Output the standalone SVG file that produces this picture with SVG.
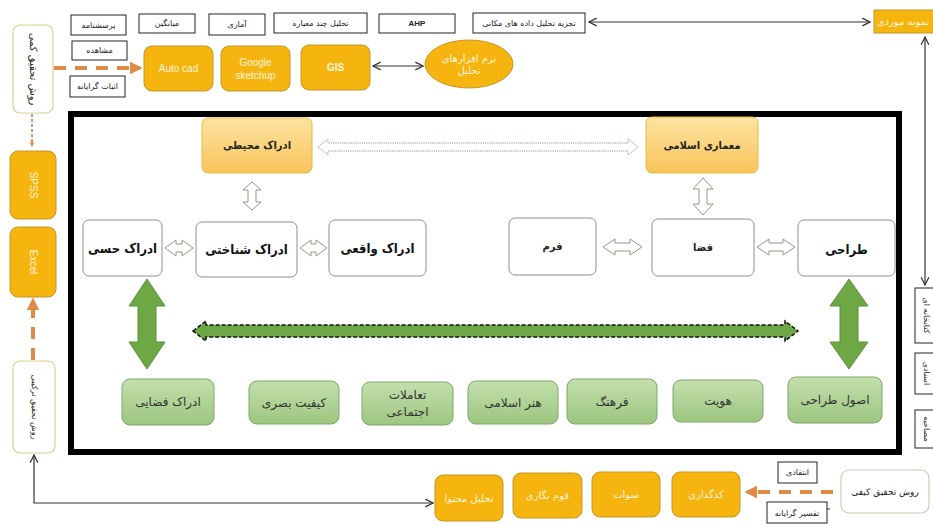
<svg xmlns="http://www.w3.org/2000/svg" width="933" height="525" viewBox="0 0 933 525">
<defs>
<linearGradient id="gOr" x1="0" y1="0" x2="0" y2="1"><stop offset="0" stop-color="#fde3a2"/><stop offset="1" stop-color="#f8c45a"/></linearGradient>
<linearGradient id="gGr" x1="0" y1="0" x2="0" y2="1"><stop offset="0" stop-color="#c3dfad"/><stop offset="1" stop-color="#9cc67f"/></linearGradient>
<marker id="ah" viewBox="0 0 10 10" refX="9" refY="5" markerWidth="8" markerHeight="8" orient="auto-start-reverse"><path d="M1,1 L9,5 L1,9" fill="none" stroke="#333" stroke-width="1.3"/></marker>
<marker id="ahO" viewBox="0 0 10 10" refX="8" refY="5" markerWidth="3.2" markerHeight="3.2" orient="auto-start-reverse"><path d="M0,0 L10,5 L0,10 Z" fill="#df8a45"/></marker>
</defs>
<style>
text{font-family:"DejaVu Sans","Noto Sans",sans-serif;text-anchor:middle;dominant-baseline:central}
.lat{font-family:"Liberation Sans",Arial,sans-serif}
.sb{fill:#fff;stroke:#222;stroke-width:1}
.st{font-size:8px;fill:#222}
.ob{fill:#f6b40f;stroke:#c4962a;stroke-width:1}
.ot{font-size:10px;fill:#fff6dc}
.wb{fill:#fff;stroke:#8e8e8e;stroke-width:1}
.wt{font-family:"DejaVu Sans Condensed","DejaVu Sans",sans-serif;font-size:13px;font-weight:bold;fill:#111}
.pb{fill:url(#gOr);stroke:#e6b84a;stroke-width:1}
.pt{font-family:"DejaVu Sans Condensed","DejaVu Sans",sans-serif;font-size:11px;font-weight:bold;fill:#222}
.gb{fill:url(#gGr);stroke:#7da868;stroke-width:1}
.gt{font-size:12px;fill:#333}
.yb{fill:#fff;stroke:#d8cf92;stroke-width:1.2}
.hol{fill:#fff;stroke:#8d9a80;stroke-width:1}
.ln{fill:none;stroke:#333;stroke-width:1.2}
.od{fill:none;stroke:#df8a45;stroke-width:4;stroke-dasharray:12 9}
</style>

<g id="main-frame"><rect x="71" y="114" width="828" height="338" fill="#fff" stroke="#000" stroke-width="6"/></g>

<g id="connectors">
<line class="ln" x1="589" y1="22" x2="870" y2="22" marker-start="url(#ah)" marker-end="url(#ah)"/>
<line class="ln" x1="925" y1="37" x2="925" y2="285" marker-start="url(#ah)" marker-end="url(#ah)"/>
<line class="ln" x1="373" y1="66" x2="423" y2="66" marker-start="url(#ah)" marker-end="url(#ah)"/>
<line class="od" x1="54" y1="68" x2="140" y2="68" marker-end="url(#ahO)"/>
<line x1="32" y1="114" x2="32" y2="146" stroke="#b87a4a" stroke-width="1.5" stroke-dasharray="3 2" marker-end="url(#ahO)"/>
<line class="od" x1="33" y1="360" x2="33" y2="300" stroke-dasharray="9 7" marker-end="url(#ahO)"/>
<polyline class="ln" points="34,455 34,503 433,503" marker-start="url(#ah)" marker-end="url(#ah)"/>
<line class="od" x1="833" y1="492" x2="747" y2="492" marker-end="url(#ahO)"/>
<line x1="768" y1="509" x2="830" y2="509" stroke="#222" stroke-width="1"/>
<path class="hol" stroke="#777" stroke-dasharray="1.2 1" d="M318,147 L328,139 L328,143 L628,143 L628,139 L638,147 L628,155 L628,151 L328,151 L328,155 Z"/>
<path class="hol" d="M252,182 L261,190 L256,190 L256,202 L261,202 L252,210 L243,202 L248,202 L248,190 L243,190 Z"/>
<path class="hol" d="M703,178 L713,189 L707,189 L707,204 L713,204 L703,215 L693,204 L699,204 L699,189 L693,189 Z"/>
<path class="hol" d="M165,248 L176,240 L176,244 L182,244 L182,240 L193,248 L182,256 L182,252 L176,252 L176,256 Z"/>
<path class="hol" d="M300,248 L311,240 L311,244 L316,244 L316,240 L327,248 L316,256 L316,252 L311,252 L311,256 Z"/>
<path class="hol" d="M603,247 L615,239 L615,243 L630,243 L630,239 L642,247 L630,255 L630,251 L615,251 L615,255 Z"/>
<path class="hol" d="M757,247 L769,239 L769,243 L783,243 L783,239 L795,247 L783,255 L783,251 L769,251 L769,255 Z"/>
<path d="M147,279 L165,306 L156,306 L156,342 L165,342 L147,369 L129,342 L138,342 L138,306 L129,306 Z" fill="#6ea844" stroke="#5a8f38" stroke-width="1"/>
<path d="M849,279 L868,306 L858,306 L858,342 L868,342 L849,369 L830,342 L840,342 L840,306 L830,306 Z" fill="#6ea844" stroke="#5a8f38" stroke-width="1"/>
<path d="M193,331 L206,321 L206,325 L785,325 L785,321 L798,331 L785,341 L785,337 L206,337 L206,341 Z" fill="#6ea844" stroke="#111" stroke-width="1.5" stroke-dasharray="4 2"/>
</g>

<g id="n-porseshname"><rect class="sb" x="71" y="15" width="55" height="20"/><text class="st" x="98.5" y="25">پرسشنامه</text></g>
<g id="n-moshahede"><rect class="sb" x="72" y="41" width="55" height="19"/><text class="st" x="99.5" y="50.5">مشاهده</text></g>
<g id="n-esbat"><rect class="sb" x="70" y="76" width="55" height="21"/><text class="st" x="97.5" y="86.5">اثبات گرایانه</text></g>
<g id="n-miangin"><rect class="sb" x="139" y="14" width="56" height="19"/><text class="st" x="167" y="23.5">میانگین</text></g>
<g id="n-amari"><rect class="sb" x="209" y="14" width="56" height="21"/><text class="st" x="237" y="24.5">آماری</text></g>
<g id="n-chandmeyare"><rect class="sb" x="274" y="13" width="93" height="20"/><text class="st" x="320.5" y="23">تحلیل چند معیاره</text></g>
<g id="n-ahp"><rect class="sb" x="379" y="14" width="76" height="19"/><text class="st lat" x="417" y="23.5" font-weight="bold">AHP</text></g>
<g id="n-tajzie"><rect class="sb" x="473" y="13" width="112" height="20"/><text class="st" x="529" y="23">تجزیه تحلیل داده های مکانی</text></g>
<g id="n-nemoune"><rect class="ob" x="874" y="10" width="62" height="23"/><text class="ot" x="903" y="21.5" font-size="8px">نمونه موردی</text></g>

<g id="n-kami"><rect class="yb" x="13" y="25" width="40" height="88" rx="7"/><text x="33" y="69" font-size="10px" fill="#222" transform="rotate(90 33 69)">روش تحقیق کمی</text></g>
<g id="n-autocad"><rect class="ob" x="144" y="46" width="69" height="45" rx="8"/><text class="ot lat" x="178.5" y="68.5" font-size="12px">Auto cad</text></g>
<g id="n-sketchup"><rect class="ob" x="221" y="46" width="69" height="45" rx="8"/><text class="ot lat" x="255.5" y="62" font-size="11px">Google</text><text class="ot lat" x="255.5" y="75" font-size="11px">sketchup</text></g>
<g id="n-gis"><rect class="ob" x="301" y="45" width="69" height="45" rx="8"/><text class="ot lat" x="335.5" y="67.5" font-weight="bold">GIS</text></g>
<g id="n-narmafzar"><ellipse cx="469" cy="64" rx="44" ry="24" fill="#f6b40f" stroke="#c4962a" stroke-width="1"/><text class="ot" x="469" y="58" font-size="8px">نرم افزارهای</text><text class="ot" x="469" y="70" font-size="8px">تحلیل</text></g>

<g id="n-spss"><rect class="ob" x="10" y="151" width="46" height="68" rx="8"/><text class="ot lat" x="33" y="185" transform="rotate(90 33 185)">SPSS</text></g>
<g id="n-excel"><rect class="ob" x="10" y="227" width="46" height="70" rx="8"/><text class="ot lat" x="33" y="262" transform="rotate(90 33 262)">Excel</text></g>
<g id="n-tarkibi"><rect class="yb" x="13" y="361" width="42" height="92" rx="7"/><text x="34" y="407" font-size="8px" fill="#222" transform="rotate(90 34 407)">روش تحقیق ترکیبی</text></g>

<g id="n-ketabkhane"><rect class="sb" x="915" y="288" width="30" height="55"/><text class="st" x="926" y="315.5" transform="rotate(90 926 315.5)">کتابخانه ای</text></g>
<g id="n-asnadi"><rect class="sb" x="915" y="353" width="30" height="41"/><text class="st" x="926" y="373.5" transform="rotate(90 926 373.5)">اسنادی</text></g>
<g id="n-mosahebe"><rect class="sb" x="915" y="410" width="30" height="38"/><text class="st" x="926" y="429" transform="rotate(90 926 429)">مصاحبه</text></g>

<g id="n-mohiti"><rect class="pb" x="202" y="118" width="110" height="55" rx="6"/><text class="pt" x="257" y="145.5">ادراک محیطی</text></g>
<g id="n-memari"><rect class="pb" x="646" y="117" width="112" height="56" rx="6"/><text class="pt" x="702" y="145">معماری اسلامی</text></g>
<g id="n-hessi"><rect class="wb" x="83" y="220" width="79" height="56" rx="6"/><text class="wt" x="122.5" y="248">ادراک حسی</text></g>
<g id="n-shenakhti"><rect class="wb" x="196" y="222" width="101" height="55" rx="6"/><text class="wt" x="246.5" y="249.5">ادراک شناختی</text></g>
<g id="n-vaghei"><rect class="wb" x="329" y="220" width="97" height="56" rx="6"/><text class="wt" x="377.5" y="248">ادراک واقعی</text></g>
<g id="n-form"><rect class="wb" x="509" y="218" width="87" height="57" rx="6"/><text class="pt" x="552.5" y="246.5">فرم</text></g>
<g id="n-faza"><rect class="wb" x="652" y="219" width="102" height="57" rx="6"/><text class="pt" x="703" y="247.5" font-size="12px">فضا</text></g>
<g id="n-tarrahi"><rect class="wb" x="798" y="220" width="97" height="56" rx="6"/><text class="wt" x="846.5" y="249">طراحی</text></g>

<g id="n-fazai"><rect class="gb" x="122" y="379" width="92" height="46" rx="8"/><text class="gt" x="168" y="402">ادراک فضایی</text></g>
<g id="n-basari"><rect class="gb" x="249" y="381" width="90" height="43" rx="8"/><text class="gt" x="294" y="402.5">کیفیت بصری</text></g>
<g id="n-taamolat"><rect class="gb" x="362" y="382" width="91" height="43" rx="8"/><text class="gt" x="407.5" y="395">تعاملات</text><text class="gt" x="407.5" y="412">اجتماعی</text></g>
<g id="n-honar"><rect class="gb" x="468" y="381" width="90" height="43" rx="8"/><text class="gt" x="513" y="402.5">هنر اسلامی</text></g>
<g id="n-farhang"><rect class="gb" x="567" y="379" width="90" height="45" rx="8"/><text class="gt" x="612" y="401.5">فرهنگ</text></g>
<g id="n-hoviat"><rect class="gb" x="673" y="380" width="90" height="42" rx="8"/><text class="gt" x="718" y="401">هویت</text></g>
<g id="n-osool"><rect class="gb" x="788" y="377" width="94" height="46" rx="8"/><text class="gt" x="835" y="400">اصول طراحی</text></g>

<g id="n-mohtava"><rect class="ob" x="435" y="475" width="68" height="46" rx="8"/><text class="ot" x="469" y="498">تحلیل محتوا</text></g>
<g id="n-ghom"><rect class="ob" x="513" y="473" width="69" height="45" rx="8"/><text class="ot" x="547.5" y="495.5">قوم نگاری</text></g>
<g id="n-swot"><rect class="ob" x="592" y="472" width="68" height="45" rx="8"/><text class="ot" x="626" y="494.5">سوات</text></g>
<g id="n-kodgozari"><rect class="ob" x="672" y="472" width="68" height="45" rx="8"/><text class="ot" x="706" y="494.5" font-size="11px">کدگذاری</text></g>
<g id="n-enteghadi"><rect class="sb" x="778" y="462" width="39" height="21"/><text class="st" x="797.5" y="472.5">انتقادی</text></g>
<g id="n-tafsir"><rect class="sb" x="767" y="502" width="60" height="21"/><text class="st" x="797" y="513">تفسیر گرایانه</text></g>
<g id="n-keyfi"><rect x="841" y="470" width="88" height="43" rx="8" fill="#fff" stroke="#d6c8b4" stroke-width="1.2"/><text x="885" y="491.5" font-size="9px" fill="#222">روش تحقیق کیفی</text></g>
</svg>
